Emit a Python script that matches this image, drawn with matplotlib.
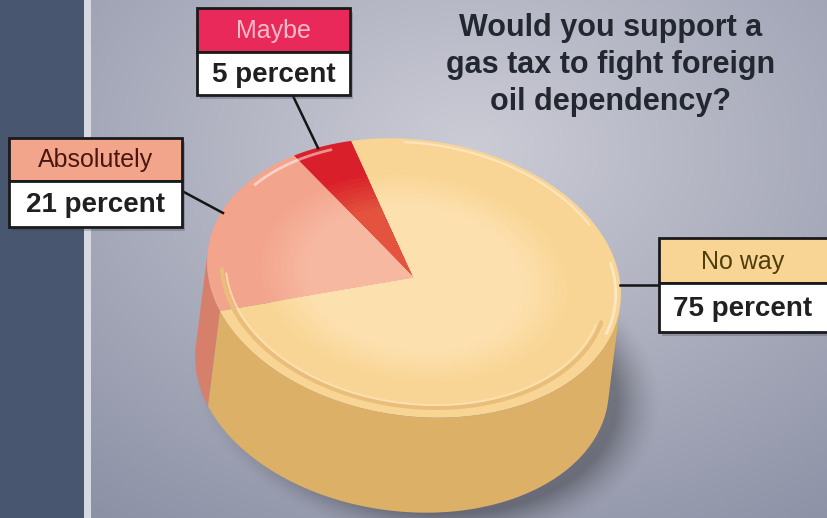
import numpy as np
import matplotlib
matplotlib.use("Agg")
import matplotlib.pyplot as plt
from matplotlib.patches import Polygon, Rectangle

# ---------------- data ----------------
categories = ["Maybe", "Absolutely", "No way"]
values = [5, 21, 75]
value_labels = ["5 percent", "21 percent", "75 percent"]
title_text = "Would you support a\ngas tax to fight foreign\noil dependency?"

# ---------------- styles ----------------
top_colors = ["#D91F29", "#F3A48C", "#F9D595"]
inner_colors = ["#E3533E", "#F7B8A2", "#FCE1AF"]
side_colors = ["#B81A22", "#D6806C", "#DDB068"]
box_colors = ["#E8295A", "#F3A58B", "#F9D595"]
name_colors = ["#F8BCCB", "#4A1710", "#4E3E0C"]

W, H = 827, 518
plt.rcParams['font.family'] = ['Liberation Sans', 'DejaVu Sans']
fig = plt.figure(figsize=(W / 100, H / 100), dpi=100)
ax = fig.add_axes([0, 0, 1, 1])
ax.set_xlim(0, W)
ax.set_ylim(H, 0)
ax.axis('off')

# ---------------- geometry of the 3D pie ----------------
c = np.array([414.0, 278.0])
a, b, phi = 208.0, 138.0, np.deg2rad(8)
R = np.array([[np.cos(phi), -np.sin(phi)], [np.sin(phi), np.cos(phi)]])
M = R @ np.diag([a, b])
Minv = np.linalg.inv(M)
v = np.array([-12.0, 95.0])


def pts(tdeg, s=1.0, off=(0, 0)):
    t = np.deg2rad(np.atleast_1d(tdeg))
    return c + np.array(off) + s * (M @ np.vstack([np.cos(t), np.sin(t)])).T


# ---------------- background ----------------
yy, xx = np.mgrid[0:H, 0:W]
d = np.sqrt(((xx - 470) / 720) ** 2 + ((yy - 150) / 520) ** 2)
tt = np.clip(1.15 * d, 0, 1)[..., None]
light = np.array([0.80, 0.80, 0.84])
dark = np.array([0.55, 0.57, 0.65])
img = light * (1 - tt) + dark * tt
# pie shadow
p = np.stack([xx - (c[0] + v[0] + 24), yy - (c[1] + v[1] + 12)], axis=-1)
q = p @ Minv.T
re = np.sqrt((q ** 2).sum(-1))
sh = np.clip((1.14 - re) / 0.22, 0, 1) ** 1.5 * 0.32
img = img * (1 - sh[..., None])
img[:, :84] = [0.29, 0.34, 0.44]
img[:, 84:91] = [0.84, 0.85, 0.89]
ax.imshow(img, extent=[0, W, H, 0], zorder=0, aspect='auto', interpolation='bilinear')

# ---------------- wedges ----------------
start = -113.0
fr = np.array(values, float) / np.sum(values)
ends = start - 360 * np.cumsum(fr)
starts = np.concatenate([[start], ends[:-1]])
vis_dir = Minv @ v

# sides (front, visible part only)
for i in range(len(values)):
    tg = np.linspace(starts[i], ends[i], 400)
    u = np.vstack([np.cos(np.deg2rad(tg)), np.sin(np.deg2rad(tg))]).T
    mask = (u @ vis_dir) > 0
    if mask.sum() < 2:
        continue
    arc = pts(tg[mask])
    poly = np.vstack([arc, (arc + v)[::-1]])
    ax.add_patch(Polygon(poly, closed=True, fc=side_colors[i], ec='none', zorder=2))

# top faces with soft lighter centre
for i in range(len(values)):
    tg = np.linspace(starts[i], ends[i], 300)
    base = np.array(matplotlib.colors.to_rgb(top_colors[i]))
    inner = np.array(matplotlib.colors.to_rgb(inner_colors[i]))
    scales = [1.0] + list(np.linspace(0.74, 0.52, 8))
    for k, s in enumerate(scales):
        w = 0 if k == 0 else k / (len(scales) - 1)
        col = base * (1 - w) + inner * w
        poly = np.vstack([c, pts(tg, s)])
        ax.add_patch(Polygon(poly, closed=True, fc=col, ec='none', zorder=3))

# rim details
rim = pts(np.linspace(8, 172, 200), 0.93)
ax.plot(rim[:, 0], rim[:, 1], color='#E9BE7A', lw=3, zorder=4, solid_capstyle='round')
rim2 = pts(np.linspace(10, 170, 200), 0.91)
ax.plot(rim2[:, 0], rim2[:, 1], color='#FCE2B4', lw=1.5, zorder=4, alpha=0.8)
hl = pts(np.linspace(212, 240, 60), 0.965)
ax.plot(hl[:, 0], hl[:, 1], color='white', lw=2, alpha=0.5, zorder=4)
hl2 = pts(np.linspace(262, 325, 100), 0.975)
ax.plot(hl2[:, 0], hl2[:, 1], color='white', lw=1.5, alpha=0.4, zorder=4)
hl3 = pts(np.linspace(-18, 12, 60), 0.975)
ax.plot(hl3[:, 0], hl3[:, 1], color='white', lw=2, alpha=0.45, zorder=4)

# ---------------- title ----------------
ax.text(611, 65, title_text, ha='center', va='center', fontsize=22,
        fontweight='bold', color='#23272F', linespacing=1.3, zorder=7)

# ---------------- label boxes ----------------
boxes = {
    "Maybe": (197, 350, 8, 52, 95),
    "Absolutely": (9, 182, 138, 181, 227),
    "No way": (659, 830, 238, 283, 332),
}
connectors = {
    "Maybe": ((293, 96), (318, 148)),
    "Absolutely": ((182, 191), (223, 213)),
    "No way": ((620, 285), (659, 285)),
}
for i, name in enumerate(categories):
    x0, x1, y0, ym, y1 = boxes[name]
    (lx0, ly0), (lx1, ly1) = connectors[name]
    ax.plot([lx0, lx1], [ly0, ly1], color='#151515', lw=1.8, zorder=5)
    ax.add_patch(Rectangle((x0 + 3, y0 + 4), x1 - x0, y1 - y0, fc='#30354a',
                           ec='none', alpha=0.25, zorder=5))
    ax.add_patch(Rectangle((x0, y0), x1 - x0, ym - y0, fc=box_colors[i],
                           ec='#1a1a1a', lw=2, zorder=6))
    ax.add_patch(Rectangle((x0, ym), x1 - x0, y1 - ym, fc='white',
                           ec='#1a1a1a', lw=2, zorder=6))
    xc = (x0 + min(x1, 827)) / 2
    ax.text(xc, (y0 + ym) / 2 + 1, name, ha='center', va='center', fontsize=18,
            color=name_colors[i], zorder=7)
    ax.text(xc, (ym + y1) / 2 + 1, value_labels[i], ha='center', va='center',
            fontsize=20, fontweight='bold', color='#202020', zorder=7)

fig.savefig("out.png", dpi=100)
